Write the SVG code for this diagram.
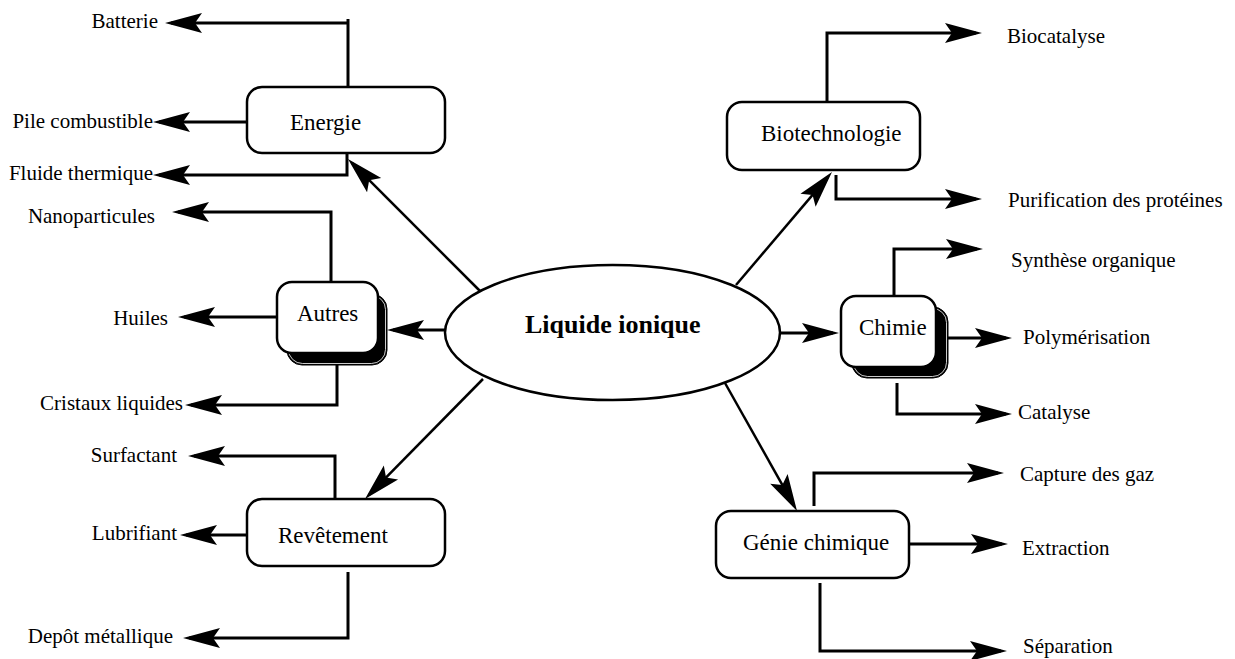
<svg xmlns="http://www.w3.org/2000/svg" width="1235" height="659" viewBox="0 0 1235 659">
<style>
.bg{fill:#fff}
.box{fill:#fff;stroke:#000;stroke-width:2.5}
.shadow{fill:#000;stroke:#000;stroke-width:1}
.shin{fill:none;stroke:#fff;stroke-width:0.8}
.ell{fill:#fff;stroke:#000;stroke-width:2.5}
.c{fill:none;stroke:#000;stroke-width:3;marker-end:url(#ah)}
.cd{fill:none;stroke:#000;stroke-width:2.5;marker-end:url(#ah)}
.p{fill:none;stroke:#000;stroke-width:3}
.lbl{font-family:"Liberation Serif","Times New Roman",serif;font-size:21px;fill:#000}
.nl{font-family:"Liberation Serif","Times New Roman",serif;font-size:23px;fill:#000}
.main{font-family:"Liberation Serif","Times New Roman",serif;font-size:26px;font-weight:bold;fill:#000}
.end{text-anchor:end}
</style>
<defs>
<marker id="ah" markerUnits="userSpaceOnUse" markerWidth="40" markerHeight="24" refX="31" refY="11" orient="auto">
<path d="M37,11 L0,1 L7,11 L0,21 Z" fill="#000"/>
</marker>
</defs>
<rect class="bg" x="0" y="0" width="1235" height="659"/>

<g id="connectors">
<!-- Energie -->
<path class="p" d="M348,87 V19"/>
<path class="c" d="M348,23 H171"/>
<path class="c" d="M247,122 H159"/>
<path class="c" d="M347,154 V175 H159"/>
<path class="cd" d="M482,293 L352.2,163.2"/>
<!-- Autres -->
<path class="c" d="M331,282 V212 H178"/>
<path class="c" d="M278,317 H184"/>
<path class="c" d="M337,365 V405 H191"/>
<path class="c" d="M445,330 H393"/>
<!-- Revetement -->
<path class="c" d="M335,503 V456 H194"/>
<path class="c" d="M247,535 H186"/>
<path class="c" d="M348,572 V638 H189"/>
<path class="cd" d="M483,379 L369.2,494.7"/>
<!-- Biotechnologie -->
<path class="c" d="M827,102 V33 H976"/>
<path class="c" d="M836,175 V199 H976"/>
<path class="cd" d="M736,285 L828.1,176.6"/>
<!-- Chimie -->
<path class="c" d="M894,296 V249 H977"/>
<path class="c" d="M948,338 H1006"/>
<path class="c" d="M897,383 V414 H1006"/>
<path class="c" d="M780,333 H833"/>
<!-- Genie chimique -->
<path class="c" d="M814,506 V473 H998"/>
<path class="c" d="M909,544 H1002"/>
<path class="c" d="M820,583 V651 H1001"/>
<path class="cd" d="M725,383 L794.1,505.8"/>
</g>

<g id="liquide-ionique">
<ellipse class="ell" cx="612.5" cy="332.5" rx="167.5" ry="67.5"/>
<text class="main" x="525" y="333">Liquide ionique</text>
</g>

<g id="energie">
<rect class="box" x="247" y="87" width="198" height="66" rx="15"/>
<text class="nl" x="290" y="130">Energie</text>
</g>

<g id="autres">
<rect class="shadow" x="287" y="294" width="100" height="71" rx="15"/>
<rect class="shin" x="288.5" y="295.5" width="97" height="68" rx="14"/>
<rect class="box" x="277" y="282" width="101" height="71" rx="15"/>
<text class="nl" x="297" y="321">Autres</text>
</g>

<g id="revetement">
<rect class="box" x="247" y="499" width="198" height="67" rx="15"/>
<text class="nl" x="278" y="543">Revêtement</text>
</g>

<g id="biotechnologie">
<rect class="box" x="727" y="102" width="193" height="68" rx="15"/>
<text class="nl" x="761" y="141">Biotechnologie</text>
</g>

<g id="chimie">
<rect class="shadow" x="852" y="307" width="96" height="71" rx="15"/>
<rect class="shin" x="853.5" y="308.5" width="93" height="68" rx="14"/>
<rect class="box" x="841" y="296" width="95" height="71" rx="15"/>
<text class="nl" x="859" y="335">Chimie</text>
</g>

<g id="genie-chimique">
<rect class="box" x="716" y="511" width="193" height="67" rx="15"/>
<text class="nl" x="743" y="550">Génie chimique</text>
</g>

<g id="labels">
<text class="lbl end" x="158" y="28">Batterie</text>
<text class="lbl end" x="153" y="128">Pile combustible</text>
<text class="lbl end" x="153" y="180">Fluide thermique</text>
<text class="lbl end" x="155" y="223">Nanoparticules</text>
<text class="lbl end" x="168" y="325">Huiles</text>
<text class="lbl end" x="183" y="410">Cristaux liquides</text>
<text class="lbl end" x="177" y="462">Surfactant</text>
<text class="lbl end" x="177" y="540">Lubrifiant</text>
<text class="lbl end" x="173" y="643">Depôt métallique</text>
<text class="lbl" x="1007" y="43">Biocatalyse</text>
<text class="lbl" x="1008" y="207">Purification des protéines</text>
<text class="lbl" x="1011" y="267">Synthèse organique</text>
<text class="lbl" x="1023" y="344">Polymérisation</text>
<text class="lbl" x="1018" y="419">Catalyse</text>
<text class="lbl" x="1020" y="481">Capture des gaz</text>
<text class="lbl" x="1022" y="555">Extraction</text>
<text class="lbl" x="1023" y="653">Séparation</text>
</g>
</svg>
